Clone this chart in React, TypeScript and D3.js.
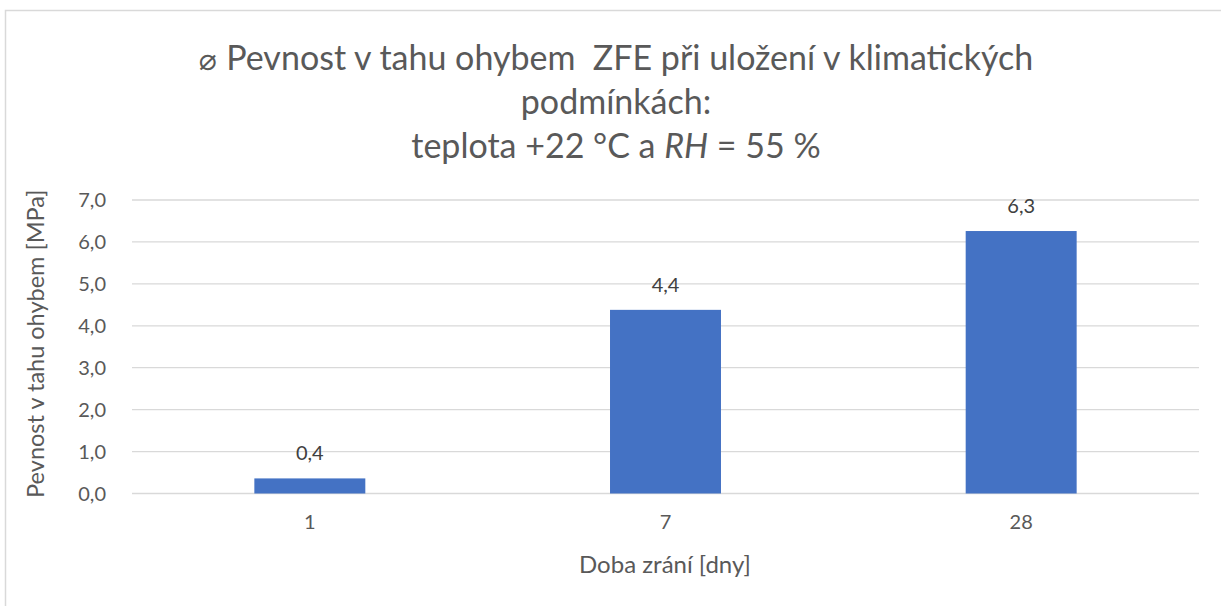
import React, { useEffect, useRef } from 'react';
import * as d3 from 'd3';

// data
const categories = ['1', '7', '28'];
const strength = [0.36, 4.38, 6.26];
const yTicks = [0, 1, 2, 3, 4, 5, 6, 7];

const titleLines = ['Pevnost v tahu ohybem  ZFE při uložení v klimatických', 'podmínkách:'];
const yTitle = 'Pevnost v tahu ohybem [MPa]';
const xTitle = 'Doba zrání [dny]';

const W = 1221;
const H = 606;
const FONT = 'Lato, "Open Sans", sans-serif';
const TXT = '#595959';

export default function App() {
  const ref = useRef<SVGSVGElement>(null);

  useEffect(() => {
    const svg = d3.select(ref.current);
    svg.selectAll('*').remove();

    const left = 132, right = 1199, top = 200, bottom = 493.5;

    const x = d3.scaleBand<string>()
      .domain(categories)
      .range([left, right])
      .paddingInner(0.688)
      .paddingOuter(0.344);

    const y = d3.scaleLinear().domain([0, 7]).range([bottom, top]);

    // chart border (only top and left are visible in the picture)
    svg.append('rect')
      .attr('x', 5.5).attr('y', 10.5)
      .attr('width', 1240).attr('height', 640)
      .attr('fill', 'white')
      .attr('stroke', '#d9d9d9')
      .attr('stroke-width', 1.5);

    // gridlines
    svg.append('g')
      .selectAll('line')
      .data(yTicks)
      .enter()
      .append('line')
      .attr('x1', left).attr('x2', right)
      .attr('y1', d => y(d)).attr('y2', d => y(d))
      .attr('stroke', '#d9d9d9')
      .attr('stroke-width', 1.3);

    // y tick labels
    svg.append('g')
      .selectAll('text')
      .data(yTicks)
      .enter()
      .append('text')
      .attr('x', 106)
      .attr('y', d => y(d))
      .attr('dy', '0.35em')
      .attr('text-anchor', 'end')
      .attr('font-size', 20)
      .attr('fill', TXT)
      .text(d => d.toFixed(1).replace('.', ','));

    // bars
    svg.append('g')
      .selectAll('rect')
      .data(strength)
      .enter()
      .append('rect')
      .attr('x', (d, i) => x(categories[i])!)
      .attr('width', x.bandwidth())
      .attr('y', d => y(d))
      .attr('height', d => y(0) - y(d))
      .attr('fill', '#4472c4');

    // data labels
    svg.append('g')
      .selectAll('text')
      .data(strength)
      .enter()
      .append('text')
      .attr('x', (d, i) => x(categories[i])! + x.bandwidth() / 2)
      .attr('y', d => y(d) - 18)
      .attr('text-anchor', 'middle')
      .attr('font-size', 20)
      .attr('fill', '#404040')
      .text(d => d.toFixed(1).replace('.', ','));

    // x tick labels
    svg.append('g')
      .selectAll('text')
      .data(categories)
      .enter()
      .append('text')
      .attr('x', d => x(d)! + x.bandwidth() / 2)
      .attr('y', 529)
      .attr('text-anchor', 'middle')
      .attr('font-size', 20)
      .attr('fill', TXT)
      .text(d => d);

    // axis titles
    svg.append('text')
      .attr('x', 665)
      .attr('y', 573)
      .attr('text-anchor', 'middle')
      .attr('font-size', 24)
      .attr('fill', TXT)
      .text(xTitle);

    svg.append('text')
      .attr('transform', `translate(44,${(top + bottom) / 2 - 3}) rotate(-90)`)
      .attr('text-anchor', 'middle')
      .attr('font-size', 23.5)
      .attr('fill', TXT)
      .text(yTitle);

    // title
    const title = svg.append('text')
      .attr('text-anchor', 'middle')
      .attr('font-size', 34)
      .attr('fill', TXT)
      .style('white-space', 'pre');

    const l1 = title.append('tspan').attr('x', 616).attr('y', 70);
    l1.append('tspan').attr('font-size', 30).attr('font-family', 'DejaVu Sans').text('⌀ ');
    l1.append('tspan').text(titleLines[0]);

    title.append('tspan').attr('x', 616).attr('y', 114).text(titleLines[1]);

    const l3 = title.append('tspan').attr('x', 616).attr('y', 158);
    l3.append('tspan').text('teplota +22 °C a ');
    l3.append('tspan').attr('font-style', 'italic').text('RH');
    l3.append('tspan').text(' = 55 %');
  }, []);

  return (
    <svg
      ref={ref}
      width={W}
      height={H}
      style={{ position: 'absolute', left: 0, top: 0, fontFamily: FONT, background: 'white' }}
    />
  );
}
